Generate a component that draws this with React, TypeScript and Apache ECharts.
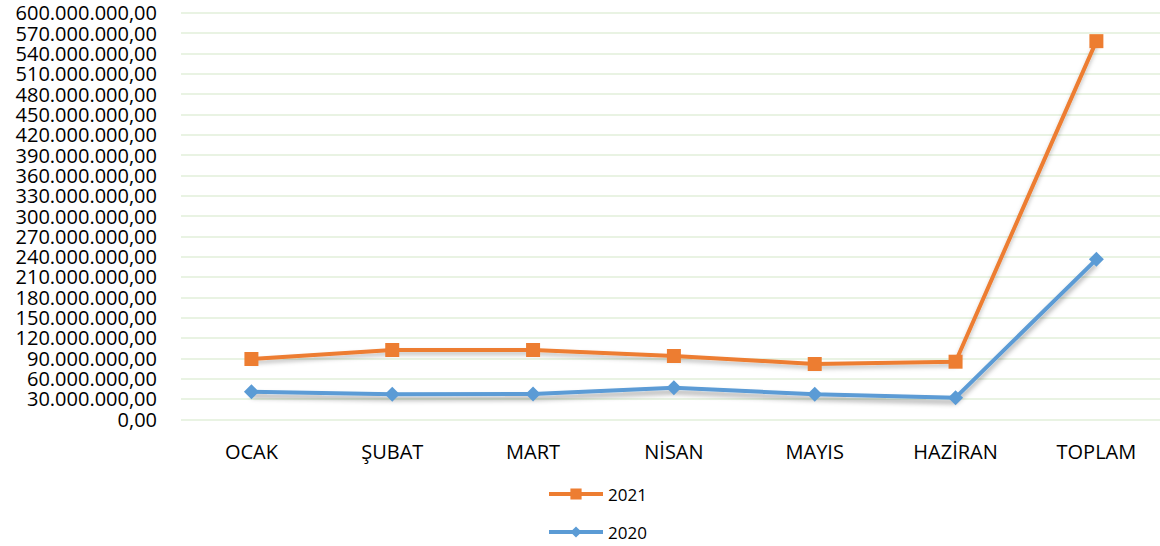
import React, { useEffect, useRef } from "react";
import * as echarts from "echarts";

const categories = ["OCAK", "ŞUBAT", "MART", "NİSAN", "MAYIS", "HAZİRAN", "TOPLAM"];
const series2021 = [89.0e6, 102.3e6, 102.3e6, 93.4e6, 81.6e6, 85.0e6, 558.0e6];
const series2020 = [40.7e6, 36.9e6, 37.3e6, 46.6e6, 36.9e6, 31.9e6, 236.0e6];
const yMin = 0;
const yMax = 600000000;
const yInterval = 30000000;

function formatTR(v: number): string {
  if (v === 0) return "0,00";
  const s = Math.round(v).toString().replace(/\B(?=(\d{3})+(?!\d))/g, ".");
  return s + ",00";
}

export default function App() {
  const ref = useRef<HTMLDivElement>(null);
  useEffect(() => {
    if (!ref.current) return;
    const chart = echarts.init(ref.current, null, { renderer: "svg" });
    const font = "'Open Sans', 'Noto Sans', sans-serif";
    chart.setOption({
      animation: false,
      backgroundColor: "#ffffff",
      grid: { left: 181, top: 12.7, width: 985.8, height: 406.6, containLabel: false },
      legend: {
        orient: "vertical",
        left: 547,
        top: 484,
        padding: 0,
        itemWidth: 54,
        itemHeight: 14,
        itemGap: 18,
        data: ["2021", "2020"],
        lineStyle: { width: 4 },
        textStyle: { fontFamily: font, fontSize: 17, color: "#000", lineHeight: 20 },
      },
      xAxis: {
        type: "category",
        data: categories,
        boundaryGap: true,
        axisLine: { show: false },
        axisTick: { show: false },
        axisLabel: { fontFamily: font, fontSize: 20, color: "#000", margin: 22 },
      },
      yAxis: {
        type: "value",
        min: yMin,
        max: yMax,
        interval: yInterval,
        axisLine: { show: false },
        axisTick: { show: false },
        splitLine: { show: true, lineStyle: { color: "#E2EFDA", width: 1.5 } },
        axisLabel: {
          fontFamily: font,
          fontSize: 20,
          lineHeight: 18,
          color: "#000",
          margin: 24,
          showMinLabel: true,
          showMaxLabel: true,
          hideOverlap: false,
          formatter: (v: number) => formatTR(v),
        },
      },
      series: [
        {
          name: "2021",
          type: "line",
          data: series2021,
          symbol: "rect",
          symbolSize: 14,
          itemStyle: { color: "#ED7D31" },
          lineStyle: {
            color: "#ED7D31",
            width: 4,
            shadowColor: "rgba(0,0,0,0.25)",
            shadowBlur: 4,
            shadowOffsetY: 3,
          },
        },
        {
          name: "2020",
          type: "line",
          data: series2020,
          symbol: "diamond",
          symbolSize: 15,
          itemStyle: { color: "#5B9BD5" },
          lineStyle: {
            color: "#5B9BD5",
            width: 4,
            shadowColor: "rgba(0,0,0,0.35)",
            shadowBlur: 5,
            shadowOffsetY: 4,
          },
        },
      ],
    });
    return () => chart.dispose();
  }, []);
  return (
    <div
      ref={ref}
      style={{ position: "fixed", left: 0, top: 0, width: 1170, height: 546, background: "#fff" }}
    />
  );
}
